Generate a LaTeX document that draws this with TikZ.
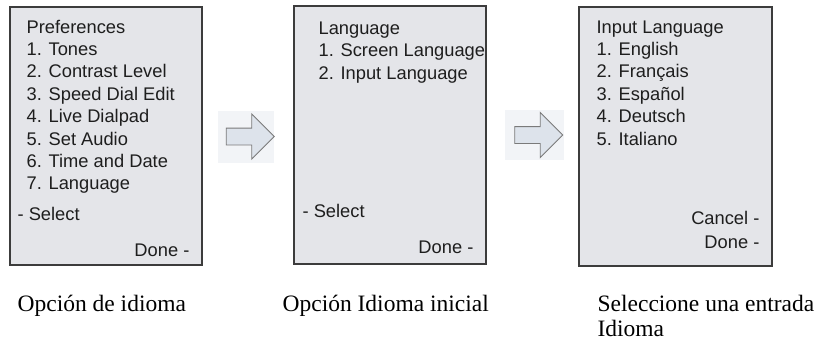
\documentclass[tikz,border=0pt]{standalone}
\usepackage{fontspec}
\setmainfont{Liberation Serif}
\setsansfont{Liberation Sans}
\usetikzlibrary{shapes.arrows, positioning}
\definecolor{cscreen}{HTML}{E4E5E9}
\definecolor{cframe}{HTML}{3C3C3C}
\definecolor{ctext}{HTML}{1E1E1E}
\definecolor{carrow}{HTML}{DDE3EB}
\definecolor{cedge}{HTML}{7A7A7A}
\definecolor{cpad}{HTML}{F2F4F7}
\tikzset{
  every picture/.style={line width=1.2pt},
  screen/.style={draw=cframe, fill=cscreen, minimum width=192pt, minimum height=258pt, inner sep=0pt},
  item/.style={anchor=base west, inner sep=0pt, text=ctext, font=\sffamily\fontsize{18.3}{20}\selectfont},
  softkey/.style={item, anchor=base east},
  caption/.style={anchor=base west, inner sep=0pt, align=left, font=\fontsize{23.5}{25}\selectfont},
  pad/.style={fill=cpad, minimum width=56pt, minimum height=52pt, inner sep=0pt},
  goarrow/.style={single arrow, draw=cedge, fill=carrow, line width=0.9pt, inner sep=0pt,
    text height=16pt, minimum height=48pt, single arrow head extend=14pt, single arrow tip angle=90},
}

\begin{document}
\begin{tikzpicture}[x=1pt, y=-1pt]
  \useasboundingbox (0,0) rectangle (817,341);
  % first screen
  \node[screen] (pref) at (106,136) {};
  \foreach \t [count=\i from 0] in {Preferences, 1. Tones, 2. Contrast Level, 3. Speed Dial Edit,
      4. Live Dialpad, 5. Set Audio, 6. Time and Date, 7. Language}
    \node[item] (pref\i) at (26,33+22.4*\i) {\t};
  \node[item] (prefsel) at (17,220.5) {- Select};
  \node[softkey] (prefdone) at (190,256.5) {Done -};
  % second screen
  \node[screen] (lang) at (390,135) {};
  \foreach \t [count=\i from 0] in {Language, 1. Screen Language, 2. Input Language}
    \node[item] (lang\i) at (318,34.5+22.4*\i) {\t};
  \node[item] (langsel) at (302,217.5) {- Select};
  \node[softkey] (langdone) at (474,253.5) {Done -};
  % third screen
  \node[screen, minimum width=193pt, minimum height=259pt] (input) at (675.5,136.5) {};
  \foreach \t [count=\i from 0] in {Input Language, 1. English, 2. Français, 3. Español,
      4. Deutsch, 5. Italiano}
    \node[item] (input\i) at (596,33+22.4*\i) {\t};
  \node[softkey] (inputcancel) at (760,224.5) {Cancel -};
  \node[softkey] (inputdone) at (760,248.5) {Done -};
  % arrows between screens
  \node[pad] (pad1) at (246,136.5) {};
  \node[goarrow] (go1) at (pad1) {};
  \node[pad, minimum width=59pt, minimum height=50pt] (pad2) at (534.5,135) {};
  \node[goarrow] (go2) at (pad2) {};
  % captions
  \node[caption] (cap1) at (17,311) {Opción de idioma};
  \node[caption] (cap2) at (282,311) {Opción Idioma inicial};
  \node[caption] (cap3) at (597,336) {Seleccione una entrada\\Idioma};
\end{tikzpicture}
\end{document}
